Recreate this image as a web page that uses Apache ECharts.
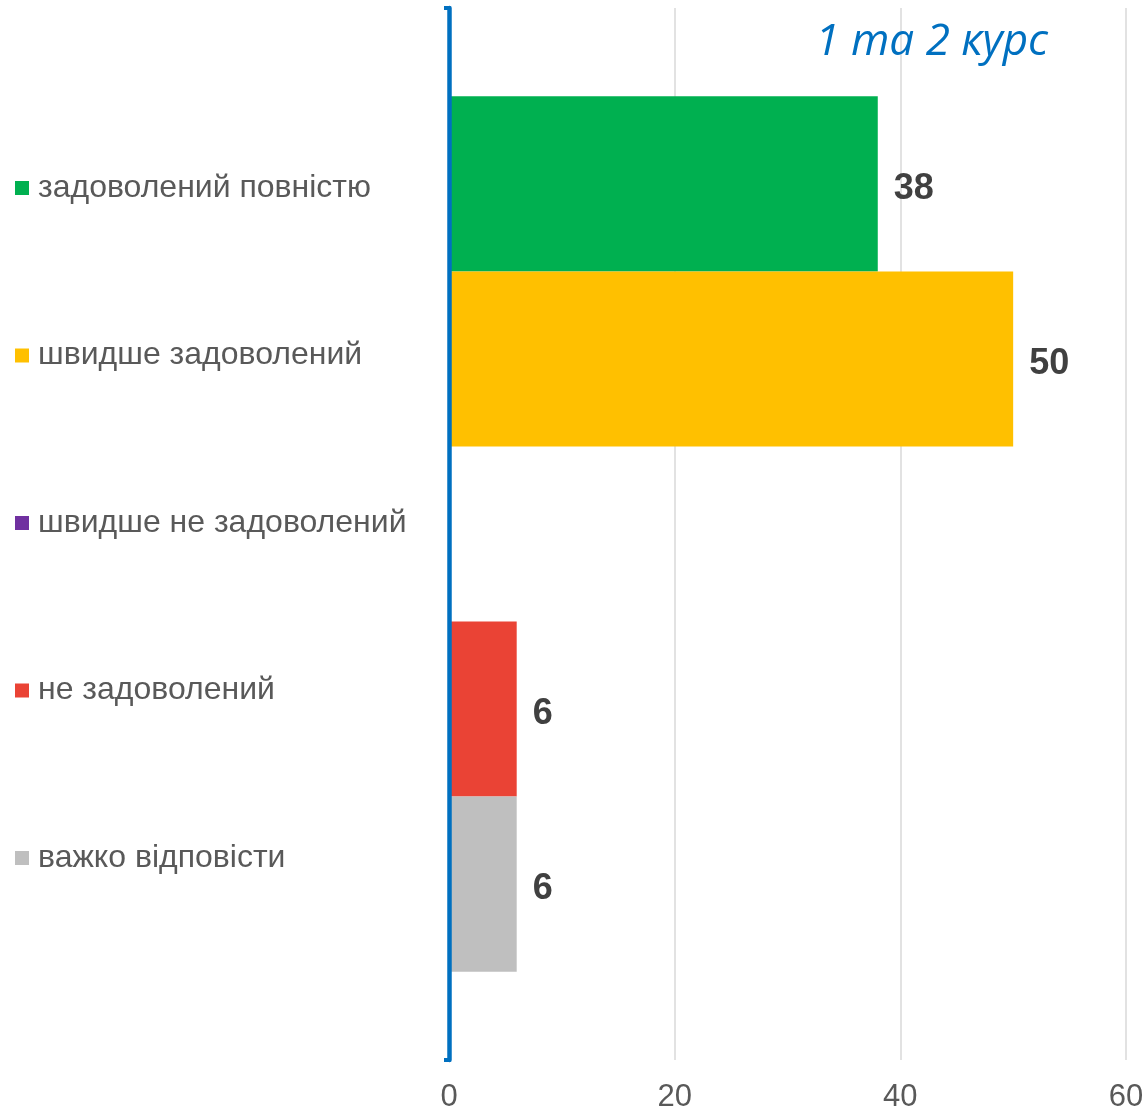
<!DOCTYPE html>
<html>
<head>
<meta charset="utf-8">
<script src="https://cdn.jsdelivr.net/npm/echarts@6/dist/echarts.min.js"></script>
<style>
  html, body { margin: 0; padding: 0; background: #fff; }
  #chart { width: 1147px; height: 1114px; }
</style>
</head>
<body>
<div id="chart"></div>
<script>
const category = ["1 та 2 курс"];
const seriesNames = ["задоволений повністю", "швидше задоволений", "швидше не задоволений", "не задоволений", "важко відповісти"];
const seriesValues = [38, 50, 0, 6, 6];
const seriesColors = ["#00B050", "#FFC000", "#7030A0", "#EA4335", "#BFBFBF"];
const xTicks = [0, 20, 40, 60];

const chart = echarts.init(document.getElementById("chart"));

const series = seriesNames.map((name, i) => ({
  name: name,
  type: "bar",
  barGap: 0,
  barCategoryGap: "16.8%",
  itemStyle: { color: seriesColors[i] },
  label: {
    show: true,
    position: "right",
    distance: 16,
    offset: [0, 5],
    color: "#404040",
    fontSize: 36,
    fontWeight: "bold",
    fontFamily: "Liberation Sans, Arial",
    formatter: (p) => (p.value ? p.value : ""), // нульове значення без підпису
  },
  data: [seriesValues[i]],
}));

chart.setOption({
  animation: false,
  title: {
    text: category[0],
    right: 94,
    top: 15,
    textStyle: {
      color: "#0070C0",
      fontStyle: "italic",
      fontWeight: "normal",
      fontSize: 44,
      fontFamily: "Open Sans",
    },
  },
  legend: {
    orient: "vertical",
    left: 10,
    top: 167,
    itemWidth: 14,
    itemHeight: 14,
    itemGap: 135.5,
    icon: "rect",
    data: seriesNames,
    textStyle: {
      color: "#595959",
      fontSize: 32,
      fontFamily: "Liberation Sans, Arial",
      padding: [0, 0, 0, 4],
    },
  },
  grid: {
    left: 449,
    right: 21,
    top: 8,
    bottom: 54,
  },
  xAxis: {
    type: "value",
    min: xTicks[0],
    max: xTicks[xTicks.length - 1],
    interval: xTicks[1] - xTicks[0],
    axisLine: { show: false },
    axisTick: { show: false },
    axisLabel: {
      color: "#595959",
      fontSize: 31,
      fontFamily: "Liberation Sans, Arial",
      margin: 22,
    },
    splitLine: { lineStyle: { color: "#D9D9D9", width: 1.5 } },
  },
  yAxis: {
    type: "category",
    inverse: true,
    data: category,
    z: 5,
    axisLine: { lineStyle: { color: "#0070C0", width: 4.5 } },
    axisTick: { show: true, length: 5, lineStyle: { color: "#0070C0", width: 4 } },
    axisLabel: { show: false },
  },
  series: series,
});
</script>
</body>
</html>
